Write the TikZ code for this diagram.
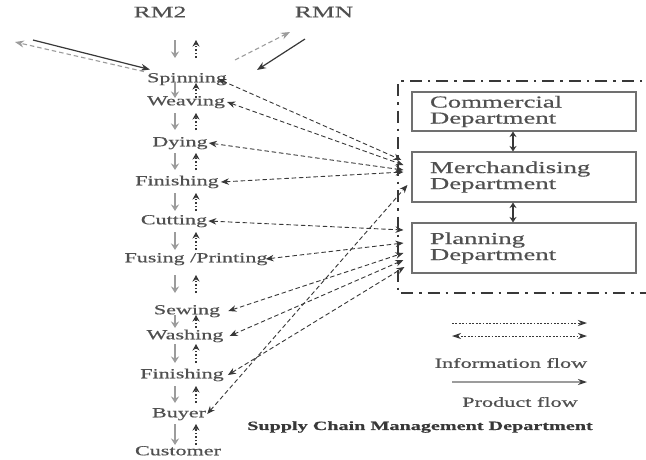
\documentclass[tikz,border=0pt]{standalone}
\usepackage{fontspec}
\setmainfont[FakeStretch=1.6,FakeBold=0.5]{Liberation Serif}
\usetikzlibrary{arrows.meta,calc}
\definecolor{txt}{HTML}{505050}
\definecolor{info}{HTML}{383838}
\definecolor{prodc}{HTML}{9C9C9C}
\definecolor{boxc}{HTML}{707070}
\newcommand\stepflow[4]{%
  \draw[dn] ($(#1.center -| dx)+(0,#3)$) -- ($(#2.center -| dx)+(0,-#4)$);
  \draw[up] ($(#2.center -| ux)+(0,-#4)$) -- ($(#1.center -| ux)+(0,#3)$);}
\begin{document}
\begin{tikzpicture}[x=1pt,y=-1pt,
  stage/.style={font=\fontsize{13.8}{15}\selectfont, text=txt, inner sep=0pt, text height=9.5pt, text depth=3pt},
  raw/.style={font=\fontsize{16}{18}\selectfont, text=txt, inner sep=0pt},
  dept/.style={draw=boxc, line width=1.1pt, minimum width=224pt, text width=188pt, inner xsep=18pt, inner ysep=0pt, align=left,
     font=\fontsize{16.7}{16}\selectfont, text=txt},
  info/.style={draw=info, dash pattern=on 4.5pt off 2.8pt, line width=0.9pt, {Stealth[length=8pt,width=6.5pt]}-{Stealth[length=8pt,width=6.5pt]}},
  up/.style={draw=info, dash pattern=on 1.6pt off 2pt, line width=1.3pt, -{Stealth[length=6.5pt,width=7pt]}},
  dn/.style={draw=prodc, line width=1.5pt, -{Stealth[length=6.5pt,width=8pt]}},
  prodsolid/.style={draw=info, line width=1.2pt, -{Stealth[length=9pt,width=7pt]}},
  proddash/.style={draw=prodc, line width=1.1pt, dash pattern=on 4.5pt off 3pt, -{Stealth[length=9pt,width=7pt]}},
  dd/.style={draw=info, line width=1.2pt, {Stealth[length=5.5pt,width=7pt]}-{Stealth[length=5.5pt,width=7pt]}},
  legtext/.style={font=\fontsize{13.9}{15}\selectfont, text=txt, inner sep=0pt}
]
\useasboundingbox (0,0) rectangle (646,459);
\fill[white] (0,0) rectangle (646,459);

% raw materials
\node[raw] (rm2) at (160,12) {RM2};
\node[raw] (rmn) at (324,12) {RMN};

% stages
\node[stage] (spin) at (187,79) {Spinning};
\node[stage] (weav) at (186,102) {Weaving};
\node[stage] (dye)  at (180,143) {Dying};
\node[stage] (fin1) at (177,182) {Finishing};
\node[stage] (cut)  at (174,221) {Cutting};
\node[stage] (fus)  at (196,259) {Fusing /Printing};
\node[stage] (sew)  at (187,311) {Sewing};
\node[stage] (wash) at (185,336) {Washing};
\node[stage] (fin2) at (182,375) {Finishing};
\node[stage] (buy)  at (179,414) {Buyer};
\node[stage] (cust) at (178,452) {Customer};

\coordinate (dx) at (175,0);
\coordinate (ux) at (196,0);

\stepflow{rm2}{spin}{28}{21}
\stepflow{spin}{weav}{4}{4}
\stepflow{weav}{dye}{11}{13}
\stepflow{dye}{fin1}{10}{12}
\stepflow{fin1}{cut}{11}{10}
\stepflow{cut}{fus}{11}{9}
\stepflow{fus}{sew}{16}{18}
\stepflow{sew}{wash}{4}{8}
\stepflow{wash}{fin2}{8}{12}
\stepflow{fin2}{buy}{11}{11}
\stepflow{buy}{cust}{10}{7}

% outside raw material flows
\coordinate (wsrc) at (33,40);
\coordinate (wdst) at (15,42);
\draw[prodsolid] (wsrc) -- ($(spin.north west)+(3,-3)$);
\draw[proddash] ($(spin.north west)+(-3,-1)$) -- (wdst);
\coordinate (nsrc) at (305,39);
\coordinate (ndst) at (290,32);
\coordinate (nend) at (257,70);
\coordinate (nbeg) at (235,60);
\draw[prodsolid] (nsrc) -- (nend);
\draw[proddash] (nbeg) -- (ndst);

% department frame
\draw[draw=info, line width=2pt, dash pattern=on 12pt off 6pt on 2.5pt off 6pt]
  (660,81) -- (398,81) -- (398,293) -- (660,293);

\node[dept, minimum height=39pt] (com) at (524,111.5) {Commercial\\Department};
\node[dept, minimum height=50pt] (mer) at (524,177) {Merchandising\\Department};
\node[dept, minimum height=50pt] (pla) at (524,248) {Planning\\Department};

\draw[dd] ([xshift=-11pt]com.south) -- ([xshift=-11pt]mer.north);
\draw[dd] ([xshift=-11pt]mer.south) -- ([xshift=-11pt]pla.north);

% information flows
\draw[info] ([xshift=-9pt]spin.east) -- ($(mer.west)+(-10,-17)$);
\draw[info] ([xshift=2pt]weav.east) -- ($(mer.west)+(-8,-12)$);
\draw[info] ([xshift=1pt]dye.east) -- ($(mer.west)+(-8,-7)$);
\draw[info] ([xshift=2pt]fin1.east) -- ($(mer.west)+(-8,-5)$);
\draw[info] ([xshift=1pt]buy.east) -- ($(mer.west)+(-4,8)$);
\draw[info] ([xshift=1pt]cut.east) -- ($(pla.west)+(-8,-18)$);
\draw[info] ([xshift=-2pt]fus.east) -- ($(pla.west)+(-8,-5)$);
\draw[info] ([xshift=8pt]sew.east) -- ($(pla.west)+(-8,5)$);
\draw[info] ([xshift=6pt]wash.east) -- ($(pla.west)+(-8,12)$);
\draw[info] ([xshift=4pt]fin2.east) -- ($(pla.west)+(-7,19)$);

% legend
\coordinate (l1a) at (452,323); \coordinate (l1b) at (587,323);
\coordinate (l2a) at (452,336); \coordinate (l2b) at (587,336);
\coordinate (l3a) at (452,382); \coordinate (l3b) at (587,382);
\draw[draw=info, line width=1pt, dash pattern=on 1.8pt off 1.6pt, -{Stealth[length=9pt,width=6pt]}] (l1a) -- (l1b);
\draw[draw=info, line width=1pt, dash pattern=on 1.8pt off 1.6pt, {Stealth[length=9pt,width=6pt]}-{Stealth[length=9pt,width=6pt]}] (l2a) -- (l2b);
\node[legtext] (infol) at (511,363) {Information flow};
\draw[draw=prodc, line width=1.3pt, -{Stealth[length=9pt,width=6pt,color=info]}] (l3a) -- (l3b);
\node[legtext] (prodl) at (520,402) {Product flow};

\node[font=\fontsize{12.6}{14}\bfseries\selectfont, text=info, inner sep=0pt] (scm) at (420,427) {Supply Chain Management Department};
\end{tikzpicture}
\end{document}
